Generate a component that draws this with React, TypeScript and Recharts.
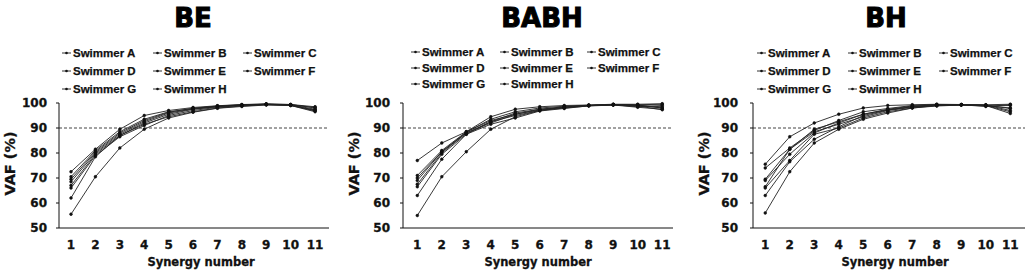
import React from 'react';
import { LineChart, Line, XAxis, YAxis, ReferenceLine, Label } from 'recharts';

// ---------- data ----------
const synergyNumbers = [1, 2, 3, 4, 5, 6, 7, 8, 9, 10, 11];
const yTicks = [50, 60, 70, 80, 90, 100];
const seriesKeys = ['A', 'B', 'C', 'D', 'E', 'F', 'G', 'H'];
const swimmerNames = ['Swimmer A', 'Swimmer B', 'Swimmer C', 'Swimmer D', 'Swimmer E', 'Swimmer F', 'Swimmer G', 'Swimmer H'];
const panelTitles = ['BE', 'BABH', 'BH'];
const vafThreshold = 90;
const xAxisTitle = 'Synergy number';
const yAxisTitle = 'VAF (%)';

const beVAF: number[][] = [
  [72.5, 81.5, 89.5, 95.0, 97.0, 98.2, 98.9, 99.4, 99.6, 99.4, 98.5],
  [70.5, 81.0, 88.5, 93.5, 96.5, 97.8, 98.7, 99.2, 99.5, 99.3, 97.5],
  [69.5, 80.5, 88.0, 93.0, 96.3, 97.9, 98.8, 99.3, 99.6, 99.4, 98.0],
  [68.5, 80.0, 87.5, 92.5, 96.0, 97.6, 98.6, 99.2, 99.5, 99.2, 97.0],
  [67.0, 79.5, 87.0, 92.0, 95.5, 97.5, 98.5, 99.1, 99.4, 99.3, 98.2],
  [66.0, 79.0, 86.5, 91.0, 95.0, 97.0, 98.3, 99.0, 99.5, 99.0, 96.5],
  [62.0, 78.5, 87.0, 91.5, 94.5, 96.5, 98.0, 98.8, 99.3, 99.1, 96.8],
  [55.5, 70.5, 82.0, 89.5, 94.0, 96.3, 97.9, 98.6, 99.2, 99.0, 97.2],
];

const babhVAF: number[][] = [
  [77.0, 84.0, 88.5, 93.0, 95.5, 97.5, 98.5, 99.0, 99.4, 99.0, 98.5],
  [71.0, 81.0, 88.5, 94.5, 97.5, 98.5, 99.0, 99.2, 99.5, 99.5, 99.7],
  [70.0, 80.5, 88.3, 93.5, 96.5, 98.0, 98.7, 99.1, 99.4, 99.2, 98.0],
  [69.0, 80.5, 88.0, 92.5, 96.0, 97.5, 98.2, 99.0, 99.3, 98.5, 99.0],
  [67.5, 80.0, 88.0, 92.0, 95.5, 97.2, 98.3, 99.0, 99.3, 99.3, 99.5],
  [66.5, 79.5, 87.5, 92.5, 95.0, 97.0, 98.0, 98.8, 99.2, 98.3, 97.5],
  [63.0, 77.5, 87.5, 91.5, 94.0, 96.8, 97.8, 98.9, 99.3, 99.0, 98.0],
  [55.0, 70.5, 80.5, 89.5, 94.5, 97.0, 98.3, 99.0, 99.2, 98.8, 97.3],
];

const bhVAF: number[][] = [
  [75.5, 86.5, 92.0, 95.5, 98.0, 99.0, 99.3, 99.5, 99.4, 99.3, 99.5],
  [74.0, 82.0, 89.0, 93.0, 96.5, 97.8, 99.0, 99.4, 99.3, 99.0, 98.0],
  [69.5, 81.5, 89.5, 92.5, 95.5, 97.5, 98.8, 99.2, 99.3, 99.2, 97.0],
  [69.0, 79.5, 88.0, 92.0, 95.5, 97.3, 98.5, 99.0, 99.3, 98.8, 99.0],
  [66.5, 81.5, 88.5, 91.5, 94.5, 97.0, 98.3, 99.0, 99.3, 98.6, 99.3],
  [66.0, 77.0, 87.5, 90.0, 94.0, 96.5, 98.0, 99.0, 99.2, 99.0, 96.5],
  [63.0, 76.5, 85.5, 90.5, 95.0, 97.2, 98.5, 99.3, 99.3, 99.1, 97.8],
  [56.0, 72.5, 84.0, 89.5, 93.5, 96.0, 98.0, 98.8, 99.2, 99.0, 95.8],
];

const panelValues = [beVAF, babhVAF, bhVAF];

function buildRows(vals: number[][]) {
  return synergyNumbers.map((s, i) => {
    const row: Record<string, number> = { synergy: s };
    seriesKeys.forEach((k, j) => {
      row[k] = vals[j][i];
    });
    return row;
  });
}

// ---------- layout ----------
const panelLayouts = [
  { left: 0, width: 340, margin: { top: 103, right: 11, bottom: 14, left: 19 }, domain: [0.508, 11.57], tickMargin: 9, titleX: 193, xLabelDx: 7, legendCols: [62, 153, 243], legendRows: [53, 71, 89] },
  { left: 340, width: 340, margin: { top: 103, right: 7, bottom: 14, left: 23 }, domain: [0.416, 11.44], tickMargin: 10, titleX: 542, xLabelDx: 0, legendCols: [71, 160, 247], legendRows: [52, 68, 84] },
  { left: 680, width: 346, margin: { top: 103, right: 1, bottom: 14, left: 33 }, domain: [0.5, 11.6], tickMargin: 12, titleX: 886, xLabelDx: 6, legendCols: [77, 168, 259], legendRows: [53, 71, 89] },
];

const tickFont = { fontFamily: 'DejaVu Sans', fontWeight: 700, fontSize: 12, fill: '#111', stroke: '#111', strokeWidth: 0.3 };

function LegendBlock({ cols, rows }: { cols: number[]; rows: number[] }) {
  return (
    <>
      {swimmerNames.map((name, i) => {
        const c = i % 3;
        const r = Math.floor(i / 3);
        return (
          <div
            key={name}
            style={{
              position: 'absolute',
              left: cols[c],
              top: rows[r] - 8,
              height: 16,
              display: 'flex',
              alignItems: 'center',
              whiteSpace: 'nowrap',
              fontFamily: '"Liberation Sans", Arial, sans-serif',
              fontWeight: 700,
              fontSize: 11.5,
              color: '#111',
              WebkitTextStroke: '0.25px #111',
            }}
          >
            <svg width={10} height={6} style={{ marginRight: 1 }}>
              <line x1={0} y1={3} x2={9} y2={3} stroke="#333" strokeWidth={1} />
              <circle cx={4.5} cy={3} r={1.3} fill="#111" />
            </svg>
            <span>{name}</span>
          </div>
        );
      })}
    </>
  );
}

function Panel({ index }: { index: number }) {
  const L = panelLayouts[index];
  const rows = buildRows(panelValues[index]);
  return (
    <div style={{ position: 'absolute', left: L.left, top: 0, width: L.width, height: 272 }}>
      <div
        style={{
          position: 'absolute',
          left: L.titleX - L.left - 100,
          width: 200,
          top: 0,
          textAlign: 'center',
          fontFamily: 'DejaVu Sans',
          fontWeight: 700,
          fontSize: 26,
          lineHeight: '36px',
          color: '#000',
          WebkitTextStroke: '1px #000',
        }}
      >
        {panelTitles[index]}
      </div>
      <LegendBlock cols={L.legendCols} rows={L.legendRows} />
      <div style={{ position: 'absolute', left: 0, top: 0 }}>
        <LineChart width={L.width} height={272} data={rows} margin={L.margin}>
          <XAxis
            dataKey="synergy"
            type="number"
            domain={L.domain}
            ticks={synergyNumbers}
            allowDataOverflow
            interval={0}
            height={30}
            tickLine={false}
            tickSize={4}
            tickMargin={8}
            axisLine={{ stroke: '#111', strokeWidth: 1 }}
            tick={tickFont}
          >
            <Label
              content={(props: any) => {
                const vb = props.viewBox || {};
                const cx = vb.x + vb.width / 2 + L.xLabelDx;
                const cy = vb.y + 38;
                return (
                  <text x={cx} y={cy} textAnchor="middle" fontFamily="DejaVu Sans" fontWeight={700} fontSize={11.5} fill="#111" stroke="#111" strokeWidth={0.3}>
                    {xAxisTitle}
                  </text>
                );
              }}
            />
          </XAxis>
          <YAxis
            type="number"
            domain={[50, 100]}
            ticks={yTicks}
            width={40}
            tickSize={3}
            tickMargin={L.tickMargin}
            tickLine={{ stroke: '#111' }}
            axisLine={{ stroke: '#111', strokeWidth: 1 }}
            tick={tickFont}
          >
            <Label
              content={(props: any) => {
                const vb = props.viewBox || {};
                const cx = vb.x + vb.width - 49;
                const cy = vb.y + vb.height / 2 - 2;
                return (
                  <text
                    x={cx}
                    y={cy}
                    transform={`rotate(-90 ${cx} ${cy})`}
                    textAnchor="middle"
                    dominantBaseline="central"
                    fontFamily="DejaVu Sans"
                    fontWeight={700}
                    fontSize={14.5}
                    fill="#111"
                    stroke="#111"
                    strokeWidth={0.3}
                  >
                    {yAxisTitle}
                  </text>
                );
              }}
            />
          </YAxis>
          <ReferenceLine y={vafThreshold} stroke="#444" strokeDasharray="3 2" strokeWidth={1} />
          {seriesKeys.map((k, j) => (
            <Line
              key={k}
              dataKey={k}
              name={swimmerNames[j]}
              type="linear"
              stroke="#222"
              strokeWidth={0.9}
              dot={{ r: 1.4, fill: '#111', stroke: '#111', strokeWidth: 0.5 }}
              activeDot={false}
              isAnimationActive={false}
            />
          ))}
        </LineChart>
      </div>
    </div>
  );
}

export default function App() {
  return (
    <div style={{ position: 'absolute', left: 0, top: 0, width: 1026, height: 272, background: '#fff', overflow: 'hidden' }}>
      {panelTitles.map((_, i) => (
        <Panel key={i} index={i} />
      ))}
    </div>
  );
}
